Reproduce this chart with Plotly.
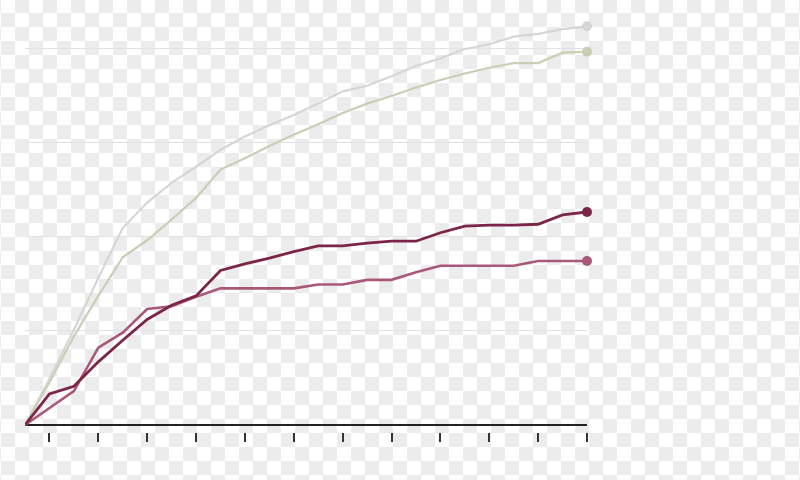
import base64
import plotly.graph_objects as go

# x positions (periods) and tick positions
periods = list(range(24))
tick_positions = [1, 3, 5, 7, 9, 11, 13, 15, 17, 19, 21, 23]
grid_values = [0, 10, 20, 30, 40]

series_gray = [0, 4.9, 10.1, 15.6, 20.9, 23.6, 25.7, 27.4, 29.2, 30.6, 31.8, 32.9,
               34.1, 35.4, 36.0, 37.0, 38.1, 38.9, 39.9, 40.4, 41.2, 41.5, 42.0, 42.3]
series_olive = [0, 4.5, 9.4, 13.7, 17.8, 19.6, 21.8, 24.1, 27.1, 28.3, 29.6, 30.8,
                31.9, 33.1, 34.1, 34.9, 35.8, 36.6, 37.3, 37.9, 38.4, 38.4, 39.5, 39.6]
series_maroon = [0, 3.3, 4.1, 6.7, 9.0, 11.2, 12.7, 13.7, 16.4, 17.1, 17.7, 18.4,
                 19.0, 19.0, 19.3, 19.5, 19.5, 20.4, 21.1, 21.2, 21.2, 21.3, 22.3, 22.6]
series_rose = [0, 1.8, 3.6, 8.2, 9.8, 12.3, 12.6, 13.6, 14.5, 14.5, 14.5, 14.5,
               14.9, 14.9, 15.4, 15.4, 16.2, 16.9, 16.9, 16.9, 16.9, 17.4, 17.4, 17.4]

colors = {
    "gray": "#d6d6d4",
    "olive": "#cbcdb5",
    "maroon": "#7b2548",
    "rose": "#a9587a",
}
widths = {"gray": 2.2, "olive": 2.2, "maroon": 2.8, "rose": 2.6}

fig = go.Figure()
for name, vals in [("gray", series_gray), ("olive", series_olive),
                   ("rose", series_rose), ("maroon", series_maroon)]:
    fig.add_trace(go.Scatter(
        x=periods, y=vals, mode="lines",
        line=dict(color=colors[name], width=widths[name]),
        cliponaxis=False, hoverinfo="skip", showlegend=False))
    fig.add_trace(go.Scatter(
        x=[periods[-1]], y=[vals[-1]], mode="markers",
        marker=dict(color=colors[name], size=10),
        cliponaxis=False, hoverinfo="skip", showlegend=False))

# checkerboard background (transparency pattern of the reference)
svg = ('<svg xmlns="http://www.w3.org/2000/svg" width="800" height="480">'
       '<defs><pattern id="c" width="28" height="28" patternUnits="userSpaceOnUse" x="1" y="-1">'
       '<rect width="28" height="28" fill="#ffffff"/>'
       '<rect x="14" y="0" width="14" height="14" fill="#ececec"/>'
       '<rect x="0" y="14" width="14" height="14" fill="#ececec"/>'
       '</pattern></defs><rect width="800" height="480" fill="url(#c)"/></svg>')
src = "data:image/svg+xml;base64," + base64.b64encode(svg.encode()).decode()

L, R, T, B = 25, 213, 20, 48
pw, ph = 800 - L - R, 480 - T - B

fig.add_layout_image(dict(
    source=src, xref="paper", yref="paper",
    x=-L / pw, y=1 + T / ph, sizex=800 / pw, sizey=480 / ph,
    xanchor="left", yanchor="top", sizing="stretch", layer="below"))

px_per_unit = 9.425
y_top = (425 - T) / px_per_unit
y_bot = -(432 - 425) / px_per_unit

fig.update_layout(
    width=800, height=480,
    margin=dict(l=L, r=R, t=T, b=B),
    paper_bgcolor="#ffffff", plot_bgcolor="rgba(0,0,0,0)",
    xaxis=dict(range=[0, 23], showgrid=False, zeroline=False, showline=False,
               tickvals=tick_positions, ticktext=["" for _ in tick_positions],
               ticks="outside", ticklen=9, tickwidth=1.5, tickcolor="#333333",
               showticklabels=False, fixedrange=True),
    yaxis=dict(range=[y_bot, y_top], tickvals=grid_values, showticklabels=False,
               showgrid=True, gridcolor="#e2e2e2", gridwidth=1,
               zeroline=True, zerolinecolor="#222222", zerolinewidth=1.5,
               showline=False, ticks="", fixedrange=True),
)

fig.write_html("out.html", config={"displayModeBar": False},
               post_script="document.body.style.margin='0';document.body.style.overflow='hidden';")
